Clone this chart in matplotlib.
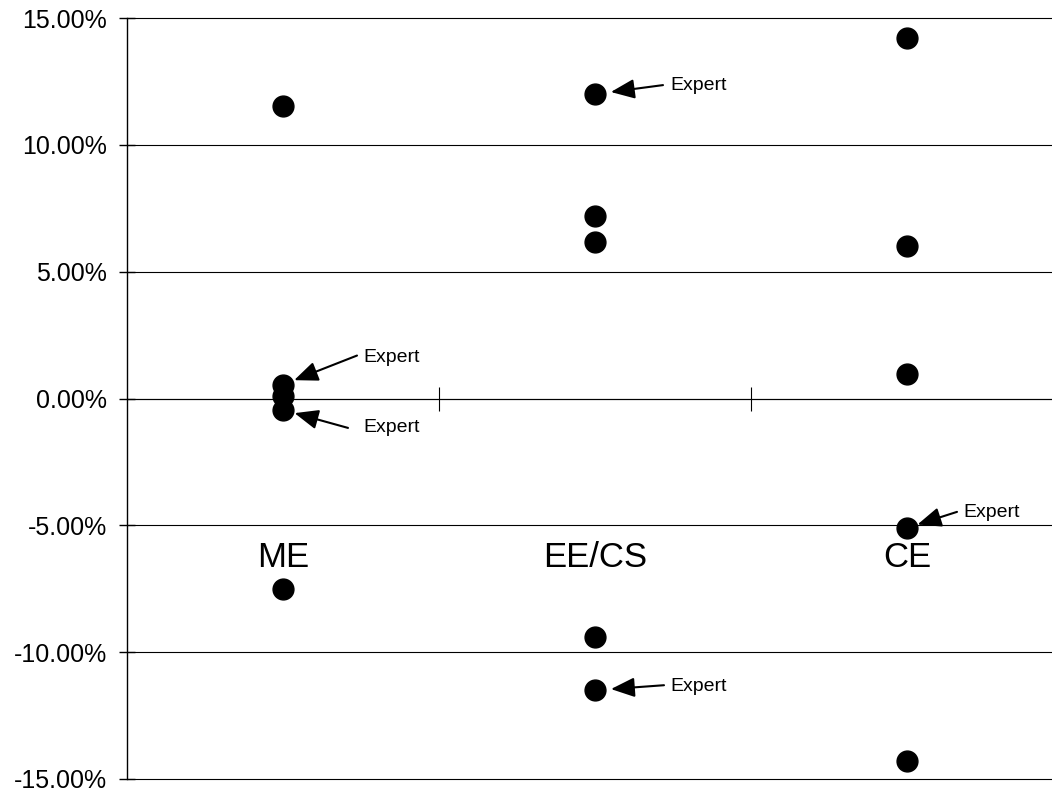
import matplotlib
matplotlib.use("Agg")
import matplotlib.pyplot as plt
from matplotlib.ticker import PercentFormatter

categories = ["ME", "EE/CS", "CE"]
me_vals = [0.1155, 0.0055, 0.0010, -0.0045, -0.0750]
ee_vals = [0.1200, 0.0720, 0.0615, -0.0940, -0.1150]
ce_vals = [0.1420, 0.0600, 0.0095, -0.0510, -0.1430]
yticks = [-0.15, -0.10, -0.05, 0.0, 0.05, 0.10, 0.15]

# which points carry an "Expert" note: (category index, value)
expert_notes = [(0, me_vals[1]), (0, me_vals[3]), (1, ee_vals[0]), (1, ee_vals[4]), (2, ce_vals[3])]

plt.rcParams['font.family'] = ['Liberation Sans', 'DejaVu Sans']
plt.rcParams['axes.unicode_minus'] = False

# offsets in pixels from the marker centre: tail of arrow, text anchor, gap at the tip
PX = 0.72
note_tail = [(74, 29), (65, -18), (68, 9), (69, 5), (50, 16)]
note_text = [(80, 27), (80, -18), (75, 9), (75, 4), (56, 15)]
note_gap = [12, 12, 16, 16, 11]

fig = plt.figure(figsize=(10.52, 7.9), dpi=100)
ax = fig.add_axes([127 / 1052, 11 / 790, 936 / 1052, 761 / 790])

for i, vals in enumerate([me_vals, ee_vals, ce_vals]):
    ax.plot([i + 0.5] * len(vals), vals, linestyle='none', marker='o',
            markersize=15, color='black', zorder=5, clip_on=False)

ax.set_xlim(0, 3)
ax.set_ylim(-0.15, 0.15)
ax.set_yticks(yticks)
ax.yaxis.set_major_formatter(PercentFormatter(xmax=1, decimals=2))
ax.grid(axis='y', color='black', linewidth=0.8)
ax.set_axisbelow(True)
for gl in ax.yaxis.get_gridlines():
    gl.set_clip_on(False)

for s in ['top', 'right']:
    ax.spines[s].set_visible(False)
ax.spines['left'].set_linewidth(1.0)
ax.spines['bottom'].set_position(('data', 0))
ax.spines['bottom'].set_linewidth(0.8)

ax.set_xticks([1, 2])
ax.set_xticklabels([])
ax.tick_params(axis='x', direction='inout', length=17, width=0.8, color='black')
ax.tick_params(axis='y', direction='inout', length=12, width=1.0, labelsize=18, pad=8.5)

for i, name in enumerate(categories):
    ax.text(i + 0.5, -0.0666, name, fontsize=25, ha='center', va='baseline')

for (ci, v), tail, tpos, gap in zip(expert_notes, note_tail, note_text, note_gap):
    ax.annotate('', xy=(ci + 0.5, v), xytext=(tail[0] * PX, tail[1] * PX),
                textcoords='offset points',
                arrowprops=dict(arrowstyle='-|>,head_length=1.45,head_width=0.6',
                                mutation_scale=10, color='black', lw=1.5,
                                shrinkA=0, shrinkB=gap * PX))
    ax.annotate('Expert', xy=(ci + 0.5, v), xytext=(tpos[0] * PX, tpos[1] * PX),
                textcoords='offset points', fontsize=14, ha='left', va='center')

fig.savefig('out.png', dpi=100)
